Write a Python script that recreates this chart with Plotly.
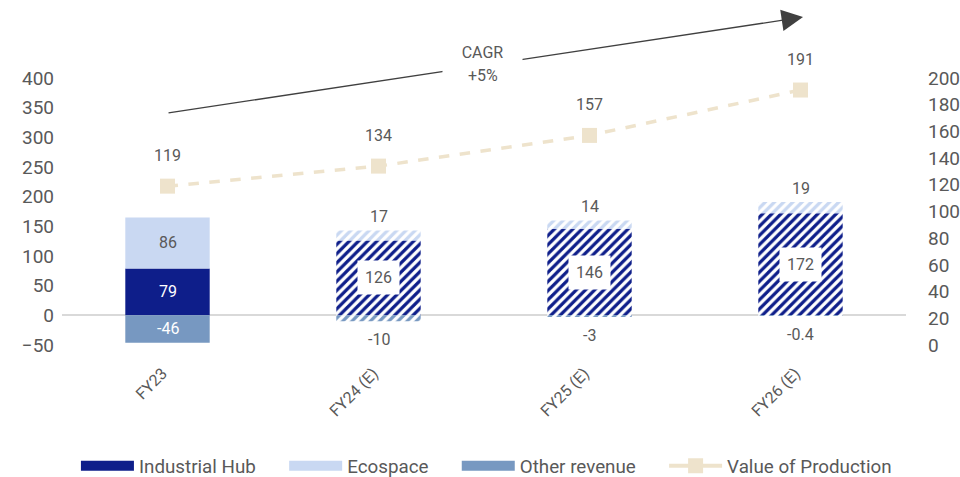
import plotly.graph_objects as go

# --- data -------------------------------------------------------------
years = ["FY23", "FY24 (E)", "FY25 (E)", "FY26 (E)"]
industrial_hub = [79, 126, 146, 172]
ecospace = [86, 17, 14, 19]
other_revenue = [-46, -10, -3, -0.4]
value_of_production = [119, 134, 157, 191]
cagr_title = "CAGR"
cagr_value = "+5%"

# --- styling ----------------------------------------------------------
NAVY = "#0E1E8A"
LIGHT = "#C9D8F2"
STEEL = "#7798C1"
BEIGE = "#EEE3CC"
GREY = "#595959"
FONT = "Roboto"
PAD = "\u00a0" * 5  # extra room between legend entries

# first year is actual (solid), later years are estimates (hatched)
shapes = ["" if not y.endswith("(E)") else "/" for y in years]


def bar(name, values, color):
    return go.Bar(
        name=name,
        x=years,
        y=values,
        width=0.4,
        showlegend=False,
        marker=dict(
            color=color,
            line=dict(width=0),
            pattern=dict(shape=shapes, fillmode="replace", bgcolor="white",
                         size=6.5, solidity=0.5),
        ),
        hoverinfo="skip",
    )


def legend_key(name, color, with_marker=False):
    return go.Scatter(
        name=name, x=[None], y=[None],
        mode="lines+markers" if with_marker else "lines",
        line=dict(color=color, width=4 if with_marker else 13),
        marker=dict(symbol="square", size=15, color=color),
        hoverinfo="skip",
    )


fig = go.Figure()
fig.add_trace(bar("Industrial Hub", industrial_hub, NAVY))
fig.add_trace(bar("Ecospace", ecospace, LIGHT))
fig.add_trace(bar("Other revenue", other_revenue, STEEL))
fig.add_trace(go.Scatter(
    name="Value of Production",
    x=years,
    y=value_of_production,
    yaxis="y2",
    mode="lines+markers",
    showlegend=False,
    line=dict(color=BEIGE, width=3.5, dash="dash"),
    marker=dict(symbol="square", size=15, color=BEIGE),
    hoverinfo="skip",
))
fig.add_trace(legend_key("Industrial Hub" + PAD, NAVY))
fig.add_trace(legend_key("Ecospace" + PAD, LIGHT))
fig.add_trace(legend_key("Other revenue" + PAD, STEEL))
fig.add_trace(legend_key("Value of Production", BEIGE, with_marker=True))

ann = []
lab_font = dict(family=FONT, size=16, color=GREY)
white_font = dict(family=FONT, size=16, color="white")
for i, y in enumerate(years):
    ih, eco, oth = industrial_hub[i], ecospace[i], other_revenue[i]
    if shapes[i] == "":
        ann.append(dict(x=y, y=ih / 2, text=f"{ih:g}", font=white_font, showarrow=False))
        ann.append(dict(x=y, y=ih + eco / 2, text=f"{eco:g}", font=lab_font, showarrow=False))
        ann.append(dict(x=y, y=oth / 2, text=f"{oth:g}", font=white_font, showarrow=False))
    else:
        ann.append(dict(x=y, y=ih / 2, text=f"{ih:g}", font=lab_font, showarrow=False,
                        bgcolor="white", borderpad=7))
        ann.append(dict(x=y, y=ih + eco, text=f"{eco:g}", font=lab_font, showarrow=False,
                        yanchor="bottom", yshift=2))
        ann.append(dict(x=y, y=oth, text=f"{oth:g}", font=lab_font, showarrow=False,
                        yanchor="top", yshift=-7))
    ann.append(dict(x=y, y=value_of_production[i], yref="y2", text=f"{value_of_production[i]:g}",
                    font=lab_font, showarrow=False, yanchor="bottom", yshift=19))

# growth arrow across the top, broken by the CAGR caption
ann.append(dict(x=0.878, y=1.228, xref="paper", yref="paper", text="",
                showarrow=True, ax=-636, ay=96, arrowhead=2, arrowsize=3.3,
                arrowwidth=1.3, arrowcolor="#404040"))
ann.append(dict(x=0.4988, y=1.097, xref="paper", yref="paper", text=cagr_title,
                xanchor="center", yanchor="middle",
                font=lab_font, showarrow=False, bgcolor="white", width=77, height=40))
ann.append(dict(x=0.4988, y=1.011, xref="paper", yref="paper", text=cagr_value,
                xanchor="center", yanchor="middle",
                font=lab_font, showarrow=False))

fig.update_layout(
    width=960, height=477,
    margin=dict(l=62, r=54, t=78, b=132),
    paper_bgcolor="white", plot_bgcolor="white",
    barmode="relative",
    font=dict(family=FONT, color=GREY),
    showlegend=True,
    legend=dict(orientation="h", x=0.0165, y=0.023, xref="paper", yref="container",
                xanchor="left", yanchor="middle",
                font=dict(family=FONT, size=18.8, color=GREY), itemwidth=53,
                traceorder="normal"),
    annotations=ann,
    xaxis=dict(showgrid=False, showline=False, ticks="", tickangle=-45, automargin=False,
               tickfont=dict(family=FONT, size=16, color=GREY),
               ticklabelstandoff=15, ticklabelshift=-5),
    yaxis=dict(range=[-50, 400], dtick=50, showgrid=False, zeroline=True, automargin=False,
               zerolinecolor="#D9D9D9", zerolinewidth=2, showline=False,
               tickfont=dict(family=FONT, size=19, color=GREY), ticklabelstandoff=7),
    yaxis2=dict(range=[0, 200], dtick=20, overlaying="y", side="right", showgrid=False,
                zeroline=False, showline=False, automargin=False,
                tickfont=dict(family=FONT, size=19, color=GREY), ticklabelstandoff=21),
)

fig.write_html("out.html")
